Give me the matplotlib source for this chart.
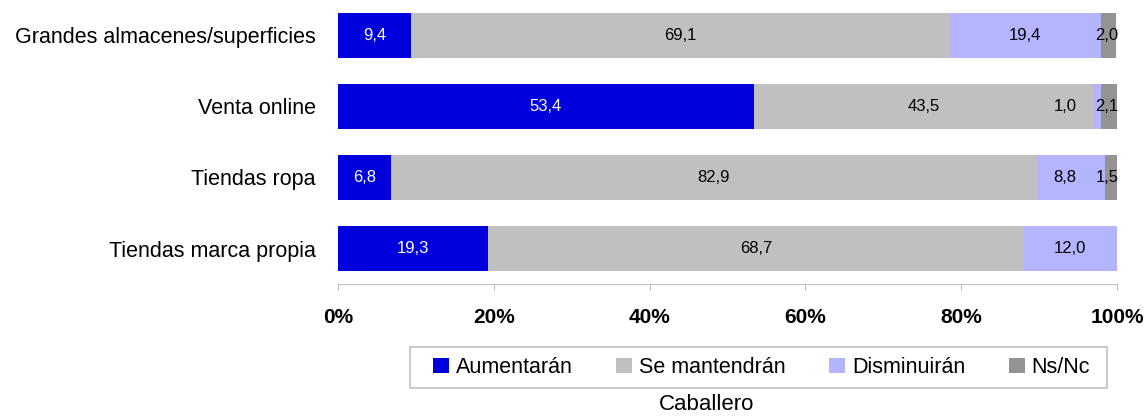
import matplotlib
matplotlib.use("Agg")
import matplotlib.pyplot as plt
from matplotlib import font_manager as fm
from matplotlib.patches import Patch, Rectangle

categories = ["Grandes almacenes/superficies", "Venta online", "Tiendas ropa", "Tiendas marca propia"]
series_names = ["Aumentarán", "Se mantendrán", "Disminuirán", "Ns/Nc"]
aumentaran = [9.4, 53.4, 6.8, 19.3]
se_mantendran = [69.1, 43.5, 82.9, 68.7]
disminuiran = [19.4, 1.0, 8.8, 12.0]
ns_nc = [2.0, 2.1, 1.5, 0.0]
xtick_labels = ["0%", "20%", "40%", "60%", "80%", "100%"]
xlabel = "Caballero"

colors = ["#0000DD", "#C0C0C0", "#B4B4FF", "#939393"]
label_colors = ["white", "black", "black", "black"]

names = {f.name for f in fm.fontManager.ttflist}
base_font = "Liberation Sans" if "Liberation Sans" in names else "DejaVu Sans"
narrow_font = "Liberation Sans Narrow" if "Liberation Sans Narrow" in names else base_font
plt.rcParams["font.family"] = [base_font, "DejaVu Sans"]

W, H = 1147, 416
fig = plt.figure(figsize=(W / 100, H / 100), dpi=100)
ax = fig.add_axes([338 / W, 1 - 284 / H, (1117 - 338) / W, 284 / H])

series = [aumentaran, se_mantendran, disminuiran, ns_nc]
ypos = list(range(len(categories)))
left = [0.0] * len(categories)
label_info = [[] for _ in categories]  # per bar: (center, text, color)
for vals, col, lc, nm in zip(series, colors, label_colors, series_names):
    ax.barh(ypos, vals, left=left, height=0.62, color=col, edgecolor="none", label=nm)
    for i, v in enumerate(vals):
        if v > 0:
            label_info[i].append([left[i] + v / 2, f"{v:.1f}".replace(".", ","), lc])
    left = [l + v for l, v in zip(left, vals)]

# keep small labels readable: stay inside the axis and avoid overlapping neighbours
min_gap = 5.4
for i, labels in enumerate(label_info):
    nxt = 98.7
    for lab in reversed(labels):
        lab[0] = min(lab[0], nxt)
        nxt = lab[0] - min_gap
    for cx, txt, lc in labels:
        ax.text(cx, ypos[i], txt, ha="center", va="center", color=lc, fontsize=12,
                family=[narrow_font, "DejaVu Sans"])

ax.set_xlim(0, 100)
ax.set_ylim(3.5, -0.5)
ax.set_yticks(ypos)
ax.set_yticklabels(categories, fontsize=15.5)
ax.tick_params(axis="y", length=0, pad=16)
ax.set_xticks([0, 20, 40, 60, 80, 100])
ax.set_xticklabels(xtick_labels, fontsize=15, fontweight="bold")
ax.tick_params(axis="x", length=4.5, color="#C0C0C0", pad=13)
for s in ["top", "right", "left"]:
    ax.spines[s].set_visible(False)
ax.spines["bottom"].set_color("#C0C0C0")

# legend frame
fig.patches.append(Rectangle((410 / W, 1 - 388 / H), 697 / W, 41 / H, transform=fig.transFigure,
                             fill=False, edgecolor="#C0C0C0", linewidth=1.2))
handles = [Patch(facecolor=c, edgecolor="none") for c in colors]
yc = 1 - 367.5 / H
leg = fig.legend(handles, series_names, loc="center",
                 bbox_to_anchor=(433 / W, yc - 0.03, (1090 - 433) / W, 0.06), mode="expand",
                 ncol=4, fontsize=15.5, frameon=False, borderpad=0, borderaxespad=0,
                 handlelength=0.75, handleheight=0.75, handletextpad=0.3, columnspacing=2.0)

fig.text(707 / W, 1 - 404 / H, xlabel, ha="center", va="center", fontsize=16)

fig.savefig("out.png", dpi=100)
